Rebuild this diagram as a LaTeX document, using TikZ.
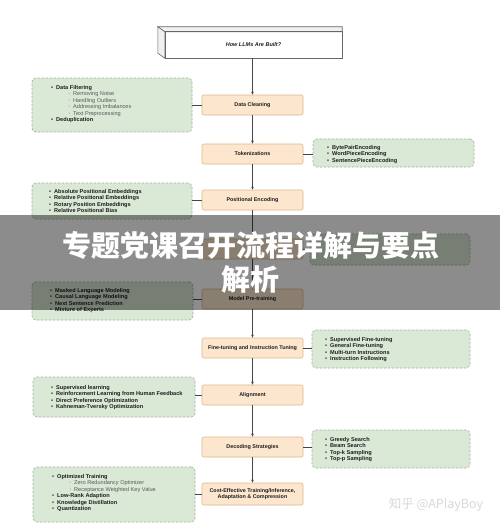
\documentclass[tikz,border=0pt]{standalone}
\usepackage{fontspec}
\setmainfont{Liberation Sans}
\newfontfamily\cjk{Noto Sans CJK SC}
\newfontfamily\dejavu{DejaVu Sans}
\usetikzlibrary{arrows.meta}
\definecolor{ofill}{RGB}{252,230,205}
\definecolor{odraw}{RGB}{222,185,140}
\definecolor{gfill}{RGB}{218,232,214}
\definecolor{gdraw}{RGB}{170,178,168}
\definecolor{linegray}{RGB}{70,70,70}
\definecolor{txt}{RGB}{30,30,30}
\definecolor{subgray}{RGB}{90,90,90}
\newcommand{\lstsize}{\fontsize{5.6}{6.5}\selectfont}
\newcommand{\itm}[1]{\makebox[5pt][l]{\textbullet}\textbf{#1}}
\newcommand{\sitm}[1]{\hspace*{17pt}{\color{subgray}\makebox[5pt][l]{{\dejavu\fontsize{4.5}{6.5}\selectfont ◦}}#1}}
\tikzset{
  obox/.style={rectangle, rounded corners=2pt, draw=odraw, line width=0.6pt, fill=ofill,
    minimum width=101pt, minimum height=20pt, inner sep=1pt, text=txt,
    font=\fontsize{5.4}{6.5}\selectfont\bfseries, align=center},
  gbox/.style={rectangle, rounded corners=4pt, draw=gdraw, line width=0.7pt,
    dash pattern=on 2.5pt off 1.5pt, fill=gfill, inner sep=0pt},
  lst/.style={inner sep=0pt, anchor=base west, text=txt, font=\lstsize},
  flow/.style={draw=linegray, line width=0.6pt, -{Stealth[length=3pt,width=2.6pt]}},
  link/.style={draw=linegray, line width=0.5pt},
  cube/.style={draw=gray!80!black, line width=0.6pt}
}
\begin{document}
\begin{tikzpicture}[x=1pt,y=-1pt]
\useasboundingbox (0,0) rectangle (500,527);
\fill[white] (0,0) rectangle (500,527);

% title 3D box
\node[inner sep=0pt, minimum width=177pt, minimum height=26pt,
      font=\fontsize{5.5}{6.5}\selectfont\bfseries\itshape, text=txt] (title) at (253.5,45) {How LLMs Are Built?};
\filldraw[cube, fill=gray!12] (title.north west) -- ++(-7,-5) -- ([yshift=5pt]title.north east) -- (title.north east) -- cycle;
\filldraw[cube, fill=gray!12] (title.north west) -- ++(-7,-5) -- ([xshift=-7pt,yshift=5pt]title.south west) -- (title.south west) -- cycle;
\draw[cube] (title.north west) rectangle (title.south east);

% main flow boxes
\node[obox] (o1) at (252.5,105) {Data Cleaning};
\node[obox] (o2) at (252.5,154) {Tokenizations};
\node[obox] (o3) at (252.5,200) {Positional Encoding};
\node[obox] (o4) at (252.5,249) {};
\node[obox] (o5) at (252.5,299) {Model Pre-training};
\node[obox] (o6) at (252.5,348) {Fine-tuning and Instruction Tuning};
\node[obox] (o7) at (252.5,395) {Alignment};
\node[obox] (o8) at (252.5,447) {Decoding Strategies};
\node[obox, minimum height=22pt] (o9) at (252.5,494) {Cost-Effective Training/Inference,\\Adaptation \& Compression};

\draw[flow] (o1.north |- title.south) -- (o1.north);
\draw[flow] (o1) -- (o2);
\draw[flow] (o2) -- (o3);
\draw[flow] (o3) -- (o4);
\draw[flow] (o4) -- (o5);
\draw[flow] (o5) -- (o6);
\draw[flow] (o6) -- (o7);
\draw[flow] (o7) -- (o8);
\draw[flow] (o8) -- (o9);

% side boxes
\node[gbox, minimum width=160pt, minimum height=54pt] (g1) at (112,105) {};
\node[gbox, minimum width=161pt, minimum height=28pt] (g2) at (393.5,153) {};
\node[gbox, minimum width=160pt, minimum height=36pt] (g3) at (112,201) {};
\node[gbox, minimum width=160pt, minimum height=31pt] (g4) at (390,249.5) {};
\node[gbox, minimum width=161pt, minimum height=38pt] (g5) at (112.5,301) {};
\node[gbox, minimum width=158pt, minimum height=38pt] (g6) at (391,349) {};
\node[gbox, minimum width=162pt, minimum height=40pt] (g7) at (114,397) {};
\node[gbox, minimum width=158pt, minimum height=38pt] (g8) at (391,449) {};
\node[gbox, minimum width=162pt, minimum height=55pt] (g9) at (114,494.5) {};

\draw[link] (g1.east |- o1.west) -- (o1.west);
\draw[link] (o2.east) -- (g2.west |- o2.east);
\draw[link] (g3.east |- o3.west) -- (o3.west);
\draw[link] (o4.east) -- (g4.west |- o4.east);
\draw[link] (g5.east |- o5.west) -- (o5.west);
\draw[link] (o6.east) -- (g6.west |- o6.east);
\draw[link] (g7.east |- o7.west) -- (o7.west);
\draw[link] (o8.east) -- (g8.west |- o8.east);
\draw[link] (g9.east |- o9.west) -- (o9.west);

% lists
\node[lst] (l1) at (51,89) {\begin{tabular}[t]{@{}l@{}}
\itm{Data Filtering}\\ \sitm{Removing Noise}\\ \sitm{Handling Outliers}\\
\sitm{Addressing Imbalances}\\ \sitm{Text Preprocessing}\\ \itm{Deduplication}\end{tabular}};
\node[lst] (l2) at (327,149) {\begin{tabular}[t]{@{}l@{}}
\itm{BytePairEncoding}\\ \itm{WordPieceEncoding}\\ \itm{SentencePieceEncoding}\end{tabular}};
\node[lst] (l3) at (49,193) {\begin{tabular}[t]{@{}l@{}}
\itm{Absolute Positional Embeddings}\\ \itm{Relative Positional Embeddings}\\
\itm{Rotary Position Embeddings}\\ \itm{Relative Positional Bias}\end{tabular}};
\node[lst] (l5) at (50,292) {\begin{tabular}[t]{@{}l@{}}
\itm{Masked Language Modeling}\\ \itm{Causal Language Modeling}\\
\itm{Next Sentence Prediction}\\ \itm{Mixture of Experts}\end{tabular}};
\node[lst] (l6) at (325,341) {\begin{tabular}[t]{@{}l@{}}
\itm{Supervised Fine-tuning}\\ \itm{General Fine-tuning}\\
\itm{Multi-turn Instructions}\\ \itm{Instruction Following}\end{tabular}};
\node[lst] (l7) at (51,389) {\begin{tabular}[t]{@{}l@{}}
\itm{Supervised learning}\\ \itm{Reinforcement Learning from Human Feedback}\\
\itm{Direct Preference Optimization}\\ \itm{Kahneman-Tversky Optimization}\end{tabular}};
\node[lst] (l8) at (325,441) {\begin{tabular}[t]{@{}l@{}}
\itm{Greedy Search}\\ \itm{Beam Search}\\ \itm{Top-k Sampling}\\ \itm{Top-p Sampling}\end{tabular}};
\node[lst] (l9) at (52,478) {\begin{tabular}[t]{@{}l@{}}
\itm{Optimized Training}\\ \sitm{Zero Redundancy Optimizer}\\ \sitm{Receptance Weighted Key Value}\\
\itm{Low-Rank Adaption}\\ \itm{Knowledge Distillation}\\ \itm{Quantization}\end{tabular}};

% overlay banner
\fill[black, opacity=0.45] (0,215) rectangle (500,310);
\node[inner sep=0pt, text=white, font=\cjk\bfseries\fontsize{29}{32}\selectfont] (ban1) at (251,245) {专题党课召开流程详解与要点};
\node[inner sep=0pt, text=white, font=\cjk\bfseries\fontsize{29}{32}\selectfont] (ban2) at (250,280) {解析};

% watermark
\node[inner sep=0pt, text=gray!30, font=\cjk\fontsize{12.5}{14}\selectfont] (wm) at (436,505) {知乎 @APlayBoy};
\end{tikzpicture}
\end{document}
